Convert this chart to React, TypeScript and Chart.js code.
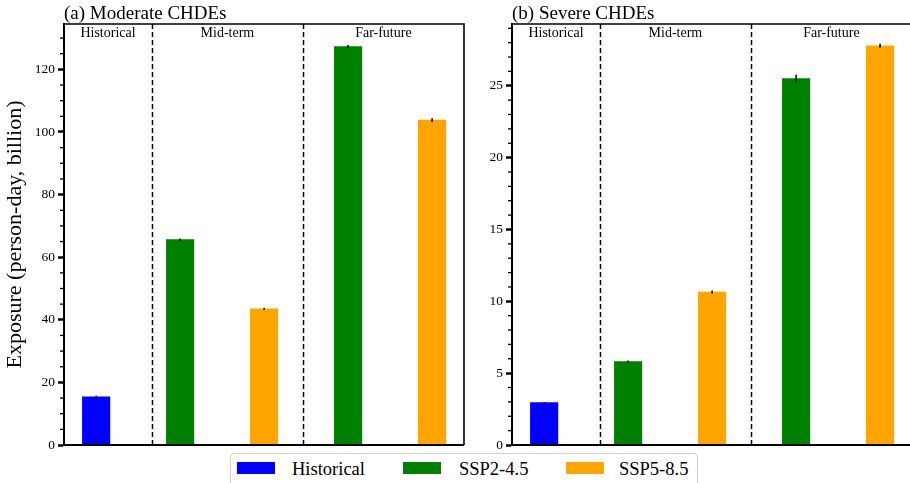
import React, { useEffect, useRef } from "react";
import { Chart, registerables } from "chart.js";

Chart.register(...registerables);

// ---- data ----
const periods = ["Historical", "Mid-term", "Far-future"];
const seriesNames = ["Historical", "SSP2-4.5", "SSP5-8.5"];
const seriesColors = ["#0000ff", "#008000", "#ffa500"];

const histPos = [0];
const ssp245Pos = [1, 3];
const ssp585Pos = [2, 4];
const periodDividers = [0.665, 2.46];

const modHist = [15.4];
const modSsp245 = [65.6, 127.3];
const modSsp585 = [43.5, 103.8];
const modHistErr = [0.3];
const modSsp245Err = [0.4, 0.5];
const modSsp585Err = [0.35, 0.6];
const modTicks = [0, 20, 40, 60, 80, 100, 120];

const sevHist = [2.95];
const sevSsp245 = [5.8, 25.5];
const sevSsp585 = [10.65, 27.78];
const sevHistErr = [0.04];
const sevSsp245Err = [0.08, 0.26];
const sevSsp585Err = [0.1, 0.14];
const sevTicks = [0, 5, 10, 15, 20, 25];

const SERIF = "'Liberation Serif', 'Times New Roman', serif";

type PanelCfg = {
  title: string;
  hist: number[];
  s245: number[];
  s585: number[];
  histErr: number[];
  s245Err: number[];
  s585Err: number[];
  ticks: number[];
  yMax: number;
  minorStep: number;
  showYTitle: boolean;
  yWidth: number;
  padRight: number;
};

const xMin = -0.383;
const xMax = 4.38;

function makeChart(canvas: HTMLCanvasElement, cfg: PanelCfg) {
  const toPts = (pos: number[], vals: number[]) => pos.map((p, i) => ({ x: p, y: vals[i] }));
  const errSets = [
    { pos: histPos, vals: cfg.hist, errs: cfg.histErr },
    { pos: ssp245Pos, vals: cfg.s245, errs: cfg.s245Err },
    { pos: ssp585Pos, vals: cfg.s585, errs: cfg.s585Err },
  ];

  const decor = {
    id: "decor",
    afterDatasetsDraw(chart: any) {
      const { ctx, chartArea } = chart;
      const xs = chart.scales.x;
      const ys = chart.scales.y;
      const { left, right, top, bottom } = chartArea;
      ctx.save();
      // error bars
      ctx.strokeStyle = "#000";
      ctx.lineWidth = 1.5;
      errSets.forEach((s) => {
        s.pos.forEach((p, i) => {
          const x = xs.getPixelForValue(p);
          ctx.beginPath();
          ctx.moveTo(x, ys.getPixelForValue(s.vals[i] - s.errs[i]));
          ctx.lineTo(x, ys.getPixelForValue(s.vals[i] + s.errs[i]));
          ctx.stroke();
        });
      });
      // dividers
      ctx.setLineDash([5, 3]);
      ctx.lineWidth = 1.5;
      periodDividers.forEach((d) => {
        const x = Math.round(xs.getPixelForValue(d)) + 0.5;
        ctx.beginPath();
        ctx.moveTo(x, top);
        ctx.lineTo(x, bottom);
        ctx.stroke();
      });
      ctx.setLineDash([]);
      // frame
      ctx.lineWidth = 1.6;
      ctx.beginPath();
      ctx.moveTo(left, top);
      ctx.lineTo(right, top);
      ctx.lineTo(right, bottom);
      ctx.stroke();
      ctx.lineWidth = 2;
      ctx.beginPath();
      ctx.moveTo(left, bottom);
      ctx.lineTo(right, bottom);
      ctx.stroke();
      // minor ticks
      ctx.lineWidth = 1.3;
      for (let v = 0; v <= cfg.yMax + 1e-9; v += cfg.minorStep) {
        if (cfg.ticks.some((t) => Math.abs(t - v) < 1e-9)) continue;
        const y = ys.getPixelForValue(v);
        ctx.beginPath();
        ctx.moveTo(left - 4, y);
        ctx.lineTo(left, y);
        ctx.stroke();
      }
      // period labels
      const bounds = [xMin, ...periodDividers, xMax];
      ctx.fillStyle = "#000";
      ctx.font = `14px ${SERIF}`;
      ctx.textAlign = "center";
      ctx.textBaseline = "middle";
      periods.forEach((p, i) => {
        const x = (xs.getPixelForValue(bounds[i]) + xs.getPixelForValue(bounds[i + 1])) / 2;
        ctx.fillText(p, x, top + 9);
      });
      // panel title
      ctx.font = `19px ${SERIF}`;
      ctx.textAlign = "left";
      ctx.textBaseline = "alphabetic";
      ctx.fillText(cfg.title, left, top - 5);
      ctx.restore();
    },
  };

  return new Chart(canvas, {
    type: "bar",
    data: {
      datasets: [
        { label: seriesNames[0], data: toPts(histPos, cfg.hist), backgroundColor: seriesColors[0] },
        { label: seriesNames[1], data: toPts(ssp245Pos, cfg.s245), backgroundColor: seriesColors[1] },
        { label: seriesNames[2], data: toPts(ssp585Pos, cfg.s585), backgroundColor: seriesColors[2] },
      ],
    },
    options: {
      animation: false,
      responsive: false,
      maintainAspectRatio: false,
      events: [],
      datasets: { bar: { grouped: false, barThickness: 27.5 } as any },
      layout: { padding: { left: 0, right: cfg.padRight, top: 24, bottom: 38 } },
      plugins: { legend: { display: false }, tooltip: { enabled: false }, title: { display: false } },
      scales: {
        x: { type: "linear", min: xMin, max: xMax, offset: false, display: false },
        y: {
          min: 0,
          max: cfg.yMax,
          afterBuildTicks: (s: any) => {
            s.ticks = cfg.ticks.map((v) => ({ value: v }));
          },
          afterFit: (s: any) => {
            s.width = cfg.yWidth;
          },
          ticks: { color: "#000", font: { family: SERIF, size: 13.5 }, padding: 3 },
          grid: {
            display: true,
            drawOnChartArea: false,
            drawTicks: true,
            tickLength: 6,
            tickWidth: 2.5,
            tickColor: "#000",
          },
          border: { display: true, color: "#000", width: 2 },
          title: {
            display: cfg.showYTitle,
            text: "Exposure (person-day, billion)",
            color: "#000",
            font: { family: SERIF, size: 22 },
            padding: { top: 2, bottom: 0 },
          },
        },
      },
    },
    plugins: [decor],
  } as any);
}

export default function App() {
  const ref1 = useRef<HTMLCanvasElement>(null);
  const ref2 = useRef<HTMLCanvasElement>(null);

  useEffect(() => {
    const c1 = makeChart(ref1.current!, {
      title: "(a) Moderate CHDEs",
      hist: modHist,
      s245: modSsp245,
      s585: modSsp585,
      histErr: modHistErr,
      s245Err: modSsp245Err,
      s585Err: modSsp585Err,
      ticks: modTicks,
      yMax: 134.5,
      minorStep: 5,
      showYTitle: true,
      yWidth: 64,
      padRight: 6,
    });
    const c2 = makeChart(ref2.current!, {
      title: "(b) Severe CHDEs",
      hist: sevHist,
      s245: sevSsp245,
      s585: sevSsp585,
      histErr: sevHistErr,
      s245Err: sevSsp245Err,
      s585Err: sevSsp585Err,
      ticks: sevTicks,
      yMax: 29.3,
      minorStep: 1,
      showYTitle: false,
      yWidth: 47,
      padRight: 0,
    });
    return () => {
      c1.destroy();
      c2.destroy();
    };
  }, []);

  const legendItems = [
    { swatch: 237, text: 292 },
    { swatch: 403, text: 459 },
    { swatch: 566, text: 619 },
  ];

  return (
    <div
      style={{
        position: "absolute",
        left: 0,
        top: 0,
        width: 910,
        height: 483,
        overflow: "hidden",
        background: "#fff",
      }}
    >
      <canvas ref={ref1} width={470} height={483} style={{ position: "absolute", left: 0, top: 0, width: 470, height: 483 }} />
      <canvas ref={ref2} width={447} height={483} style={{ position: "absolute", left: 465, top: 0, width: 447, height: 483 }} />
      <div
        style={{
          position: "absolute",
          left: 230,
          top: 453,
          width: 466,
          height: 40,
          border: "1px solid #d0d0d0",
          borderRadius: 4,
          background: "#fff",
        }}
      />
      {legendItems.map((it, i) => (
        <React.Fragment key={i}>
          <div
            style={{
              position: "absolute",
              left: it.swatch,
              top: 462,
              width: 38,
              height: 12,
              background: seriesColors[i],
            }}
          />
          <div
            style={{
              position: "absolute",
              left: it.text,
              top: 457,
              height: 24,
              lineHeight: "24px",
              fontFamily: SERIF,
              fontSize: 18.5,
              color: "#000",
              whiteSpace: "nowrap",
            }}
          >
            {seriesNames[i]}
          </div>
        </React.Fragment>
      ))}
    </div>
  );
}
